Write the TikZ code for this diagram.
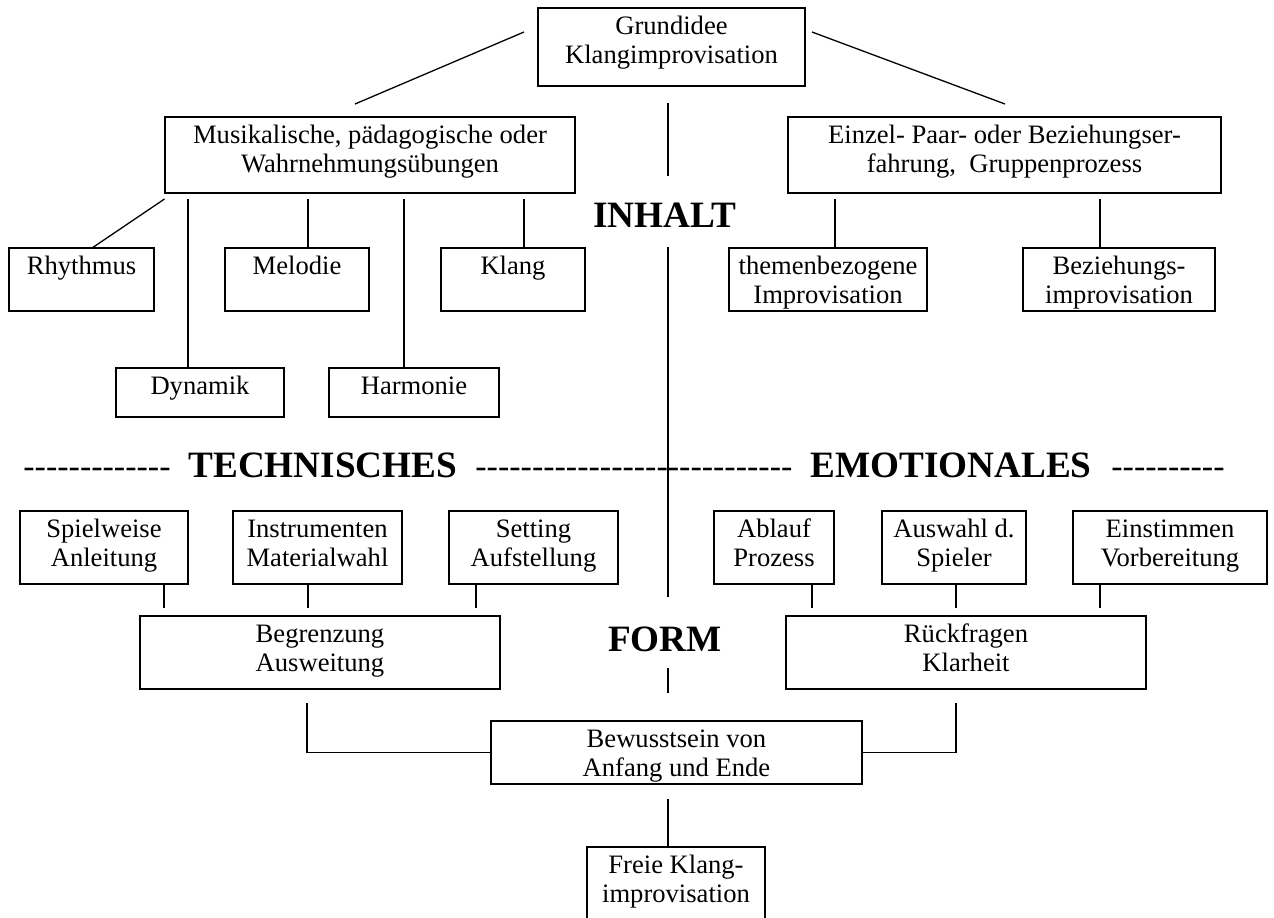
\documentclass[tikz,border=0pt]{standalone}
\usepackage{fontspec}
\setmainfont{Liberation Serif}
\newcommand\hy[1]{\foreach\k in {1,...,#1}{-\kern0pt}}
\newcommand\bx[6]{%
  \pgfmathsetmacro\myw{(#3-#2)*0.5}%
  \pgfmathsetmacro\myh{(#5-#4)*0.5}%
  \node[box] (#1) at ({(#2+#3)/2},{(#4+#5)/2})
    {\parbox[c][\myh pt][t]{\myw pt}{\centering\rule{0pt}{13pt}#6\par}};}
\tikzset{
  box/.style={draw, line width=0.9pt, inner sep=0pt, outer sep=0pt},
  lab/.style={inner sep=0pt, anchor=base west, font=\fontsize{18.6pt}{20pt}\selectfont\bfseries},
  dsh/.style={inner sep=0pt, anchor=base west, font=\fontsize{17pt}{20pt}\selectfont},
  conn/.style={line width=0.65pt}
}
\begin{document}
\begin{tikzpicture}[x=0.5pt, y=-0.5pt, font=\fontsize{13.3pt}{14.8pt}\selectfont]
\useasboundingbox (0,0) rectangle (1274,917);
\clip (0,0) rectangle (1274,917);
% boxes
\bx{gi}{538}{805}{8}{86}{Grundidee\\Klangimprovisation}
\bx{mu}{165}{575}{117}{193}{Musikalische, pädagogische oder\\Wahrnehmungsübungen}
\bx{ei}{788}{1221}{117}{193}{Einzel- Paar- oder Beziehungser-\\fahrung,\ \ Gruppenprozess}
\bx{rh}{9}{154}{248}{311}{Rhythmus}
\bx{me}{225}{369}{248}{311}{Melodie}
\bx{kl}{441}{585}{248}{311}{Klang}
\bx{th}{729}{927}{248}{311}{themenbezogene\\Improvisation}
\bx{bz}{1023}{1215}{248}{311}{Beziehungs-\\improvisation}
\bx{dy}{116}{284}{368}{417}{Dynamik}
\bx{ha}{329}{499}{368}{417}{Harmonie}
\bx{sp}{20}{188}{511}{584}{Spielweise\\Anleitung}
\bx{ins}{233}{402}{511}{584}{Instrumenten\\Materialwahl}
\bx{se}{449}{618}{511}{584}{Setting\\Aufstellung}
\bx{ab}{714}{834}{511}{584}{Ablauf\\Prozess}
\bx{au}{882}{1026}{511}{584}{Auswahl d.\\Spieler}
\bx{es}{1073}{1267}{511}{584}{Einstimmen\\Vorbereitung}
\bx{be}{140}{500}{616}{689}{Begrenzung\\Ausweitung}
\bx{rf}{786}{1146}{616}{689}{Rückfragen\\Klarheit}
\bx{bw}{491}{862}{721}{784}{Bewusstsein von\\Anfang und Ende}
\bx{fr}{587}{765}{847}{940}{Freie Klang-\\improvisation}
% labels
\node[lab, anchor=base] (inhalt) at (665,227) {INHALT};
\node[lab, anchor=base] (form) at (665,651) {FORM};
\node[lab] (tech) at (188,477) {TECHNISCHES};
\node[lab] (emo) at (810,477) {EMOTIONALES};
\node[dsh] (d1) at (23,477) {\hy{13}};
\node[dsh] (d2) at (475,477) {\hy{28}};
\node[dsh] (d3) at (1111,477) {\hy{10}};
% connectors
\begin{scope}[conn]
\coordinate (a1) at (524,32); \coordinate (a2) at (355,104); \draw (a1) -- (a2);
\coordinate (b1) at (812,32); \coordinate (b2) at (1005,104); \draw (b1) -- (b2);
\coordinate (c1) at (668,103); \coordinate (c2) at (668,176); \draw (c1) -- (c2);
\coordinate (c3) at (668,247); \coordinate (c4) at (668,597); \draw (c3) -- (c4);
\coordinate (c5) at (668,668); \coordinate (c6) at (668,693); \draw (c5) -- (c6);
\coordinate (c7) at (668,799); \draw (c7) -- (c7 |- fr.north);
\coordinate (r1) at (164.5,199); \draw (r1) -- ([xshift=5.25pt]rh.north);
\foreach \n/\x in {dy/188, me/308, ha/404, kl/524, th/835, bz/1100}
  {\coordinate (t) at (\x,199); \draw (t) -- (t |- \n.north);}
\foreach \n/\x in {sp/164, ins/308, se/476, ab/812, au/956, es/1100}
  {\coordinate (t) at (\x,608); \draw (\n.south -| t) -- (t);}
\coordinate (k1) at (307,703); \draw (k1) |- (bw.west);
\coordinate (k2) at (956,703); \draw (k2) |- (bw.east);
\end{scope}
\end{tikzpicture}
\end{document}
